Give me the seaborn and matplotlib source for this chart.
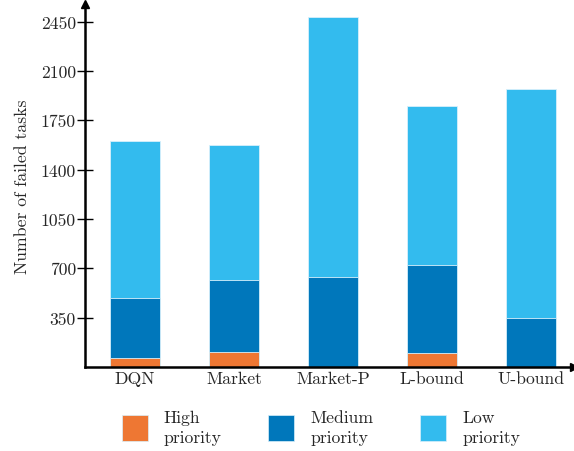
import matplotlib
matplotlib.use("Agg")
import matplotlib.pyplot as plt
import seaborn as sns
import numpy as np
import pandas as pd
from matplotlib.patches import Patch

categories = ["DQN", "Market", "Market-P", "L-bound", "U-bound"]
high = [60, 105, 0, 100, 0]
medium = [430, 515, 640, 620, 350]
low = [1110, 955, 1840, 1130, 1620]
series_names = ["High\npriority", "Medium\npriority", "Low\npriority"]
colors = ["#EE7733", "#0077BB", "#33BBEE"]
yticks = [350, 700, 1050, 1400, 1750, 2100, 2450]

sns.set_theme(style="white")
plt.rcParams["font.family"] = ["cmr10", "DejaVu Serif"]
plt.rcParams["axes.formatter.use_mathtext"] = True
plt.rcParams["mathtext.fontset"] = "cm"

FS = 12.7

fig = plt.figure(figsize=(5.74, 4.52), dpi=100)
ax = fig.add_axes([0.148, 0.186, 0.852, 0.803])

h = np.array(high)
m = np.array(medium)
l = np.array(low)
layers = [h + m + l, h + m, h]
layer_colors = [colors[2], colors[1], colors[0]]
for vals, c in zip(layers, layer_colors):
    df = pd.DataFrame({"cat": categories, "val": vals})
    sns.barplot(data=df, x="cat", y="val", color=c, saturation=1, width=0.5,
                edgecolor="#d8f0fb", linewidth=0.6, ax=ax, errorbar=None)

ax.set_xlim(-0.505, 4.435)
ax.set_ylim(0, 2575)
ax.set_yticks(yticks)
ax.set_yticklabels([str(t) for t in yticks])
ax.set_xlabel("")
ax.set_ylabel("Number of failed tasks", fontsize=FS, labelpad=8)

for s in ["top", "right"]:
    ax.spines[s].set_visible(False)
for s in ["left", "bottom"]:
    ax.spines[s].set_color("black")
    ax.spines[s].set_linewidth(1.8)

ax.tick_params(axis="y", direction="inout", length=11, width=1, labelsize=FS,
               pad=1, color="black", left=True)
ax.tick_params(axis="x", direction="in", length=6, width=1, labelsize=FS,
               pad=3, color="black", bottom=True)

ax.plot(1, 0, ">", color="black", markersize=6, transform=ax.transAxes, clip_on=False)
ax.plot(0, 1, "^", color="black", markersize=6, transform=ax.transAxes, clip_on=False)

handles = [Patch(facecolor=c, edgecolor="#d8f0fb", linewidth=0.5) for c in colors]
leg = fig.legend(handles, series_names, loc="center", bbox_to_anchor=(0.559, 0.052),
                 ncol=3, frameon=False, fontsize=FS, handlelength=1.47, handleheight=1.9,
                 handletextpad=0.9, columnspacing=2.66, labelspacing=0.1)
for t in leg.get_texts():
    t.set_linespacing(1.35)

fig.savefig("out.png", dpi=100)
